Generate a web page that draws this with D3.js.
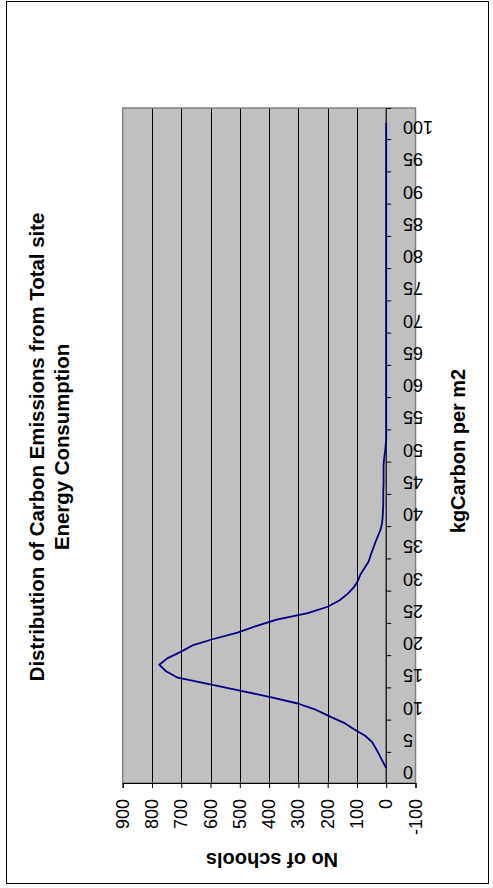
<!DOCTYPE html>
<html>
<head>
<meta charset="utf-8">
<script src="https://cdn.jsdelivr.net/npm/d3@7"></script>
<style>
  html, body { margin: 0; padding: 0; background: #ffffff; }
  svg { display: block; }
  text { font-family: Arial, "Liberation Sans", Helvetica, sans-serif; fill: #000; }
</style>
</head>
<body>
<svg id="chart" width="493" height="888"></svg>
<script>
// kgCarbon per m2 categories (0..100)
const kgCategories = d3.range(0, 101);
// Number of schools in each kgCarbon per m2 category
const schoolCounts = [
  0, 12, 23, 35, 48, 72, 110, 144, 193, 239,
  302, 395, 500, 605, 712, 752, 775, 748, 702, 662,
  590, 508, 445, 374, 268, 200, 159, 132, 111, 97,
  88, 74, 60, 53, 45, 37, 28, 19, 14, 12,
  11, 10, 10, 10, 9, 9, 9, 9, 7, 4,
  2, 0, 0, 0, 0, 0, 0, 0, 0, 0,
  0, 0, 0, 0, 0, 0, 0, 0, 0, 0,
  0, 0, 0, 0, 0, 0, 0, 0, 0, 0,
  0, 0, 0, 0, 0, 0, 0, 0, 0, 0,
  0, 0, 0, 0, 0, 0, 0, 0, 0, 0,
  0
];
// Category axis labels (every 5 kgCarbon per m2)
const kgTickLabels = ["0","5","10","15","20","25","30","35","40","45","50",
                      "55","60","65","70","75","80","85","90","95","100"];
// Value axis ticks
const countTicks = [900, 800, 700, 600, 500, 400, 300, 200, 100, 0, -100];

const titleLines = ["Distribution of Carbon Emissions from Total site", "Energy Consumption"];
const kgAxisTitle = "kgCarbon per m2";
const countAxisTitle = "No of schools";

const svg = d3.select("#chart");

// Chart frame
svg.append("rect")
  .attr("x", 6.5).attr("y", 1.5)
  .attr("width", 482).attr("height", 882)
  .attr("fill", "#fff").attr("stroke", "#000").attr("stroke-width", 1);

// The chart is laid out turned a quarter turn: counts run left-to-right
// (900 at the left), kgCarbon runs bottom-to-top.
const plotTop = 108, plotBottom = 783;
const x = d3.scaleLinear().domain([900, -100]).range([122.7, 415.5]);
const y = d3.scaleLinear().domain([0, 100]).range([768, 123]);

// Plot area
svg.append("rect")
  .attr("x", x(900)).attr("y", plotTop)
  .attr("width", x(-100) - x(900)).attr("height", plotBottom - plotTop)
  .attr("fill", "#c0c0c0");

// Gridlines
svg.append("g")
  .selectAll("line")
  .data(countTicks.filter(v => v < 900 && v > 0))
  .join("line")
  .attr("x1", d => Math.round(x(d)) + 0.5).attr("x2", d => Math.round(x(d)) + 0.5)
  .attr("y1", plotTop).attr("y2", plotBottom)
  .attr("stroke", "#000").attr("stroke-width", 1);

// Plot border
svg.append("rect")
  .attr("x", x(900)).attr("y", plotTop)
  .attr("width", x(-100) - x(900)).attr("height", plotBottom - plotTop)
  .attr("fill", "none").attr("stroke", "#808080").attr("stroke-width", 1.5);

// Value axis along the bottom
const countAxis = d3.axisBottom(x)
  .tickValues(countTicks)
  .tickSize(5)
  .tickFormat("");
const gCount = svg.append("g")
  .attr("transform", `translate(0,${plotBottom})`)
  .call(countAxis);
gCount.select(".domain").attr("stroke", "#000").attr("stroke-width", 1.2);
gCount.selectAll(".tick line").attr("stroke", "#000");

svg.append("g")
  .selectAll("text")
  .data(countTicks)
  .join("text")
  .attr("transform", d => `translate(${x(d)},799) rotate(-90)`)
  .attr("text-anchor", "end")
  .attr("dominant-baseline", "central")
  .attr("font-size", 18)
  .text(d => d);

// Category axis along the zero line, ticks between labels
const kgTickPositions = [y.invert(plotBottom)]
  .concat(d3.range(2.5, 100, 5))
  .concat([y.invert(plotTop)]);
const kgAxis = d3.axisRight(y)
  .tickValues(kgTickPositions)
  .tickSize(5)
  .tickSizeOuter(0)
  .tickFormat("");
const gKg = svg.append("g")
  .attr("transform", `translate(${x(0)},0)`)
  .call(kgAxis);
gKg.select(".domain")
  .attr("d", `M0,${plotTop}V${plotBottom}`)
  .attr("stroke", "#000").attr("stroke-width", 1.2);
gKg.selectAll(".tick line").attr("stroke", "#000");

svg.append("g")
  .selectAll("text")
  .data(kgTickLabels)
  .join("text")
  .attr("transform", d => `translate(403,${y(+d) + 4}) rotate(180)`)
  .attr("text-anchor", "end")
  .attr("dominant-baseline", "central")
  .attr("font-size", 18)
  .text(d => d);

// Distribution line
const line = d3.line()
  .x(d => x(d[1]))
  .y(d => y(d[0]));
svg.append("path")
  .datum(kgCategories.map((k, i) => [k, schoolCounts[i]]))
  .attr("d", line)
  .attr("fill", "none")
  .attr("stroke", "#000080")
  .attr("stroke-width", 1.8)
  .attr("stroke-linejoin", "round");

// Chart title
svg.append("text")
  .attr("transform", "translate(44,447) rotate(-90)")
  .attr("text-anchor", "middle")
  .attr("font-size", 20.4).attr("font-weight", "bold")
  .text(titleLines[0]);
svg.append("text")
  .attr("transform", "translate(69,447) rotate(-90)")
  .attr("text-anchor", "middle")
  .attr("font-size", 20.4).attr("font-weight", "bold")
  .text(titleLines[1]);

// Axis titles
svg.append("text")
  .attr("transform", "translate(465,451) rotate(-90)")
  .attr("text-anchor", "middle")
  .attr("font-size", 20).attr("font-weight", "bold")
  .text(kgAxisTitle);
svg.append("text")
  .attr("transform", "translate(272,853) rotate(180)")
  .attr("text-anchor", "middle")
  .attr("font-size", 20).attr("font-weight", "bold")
  .text(countAxisTitle);
</script>
</body>
</html>
